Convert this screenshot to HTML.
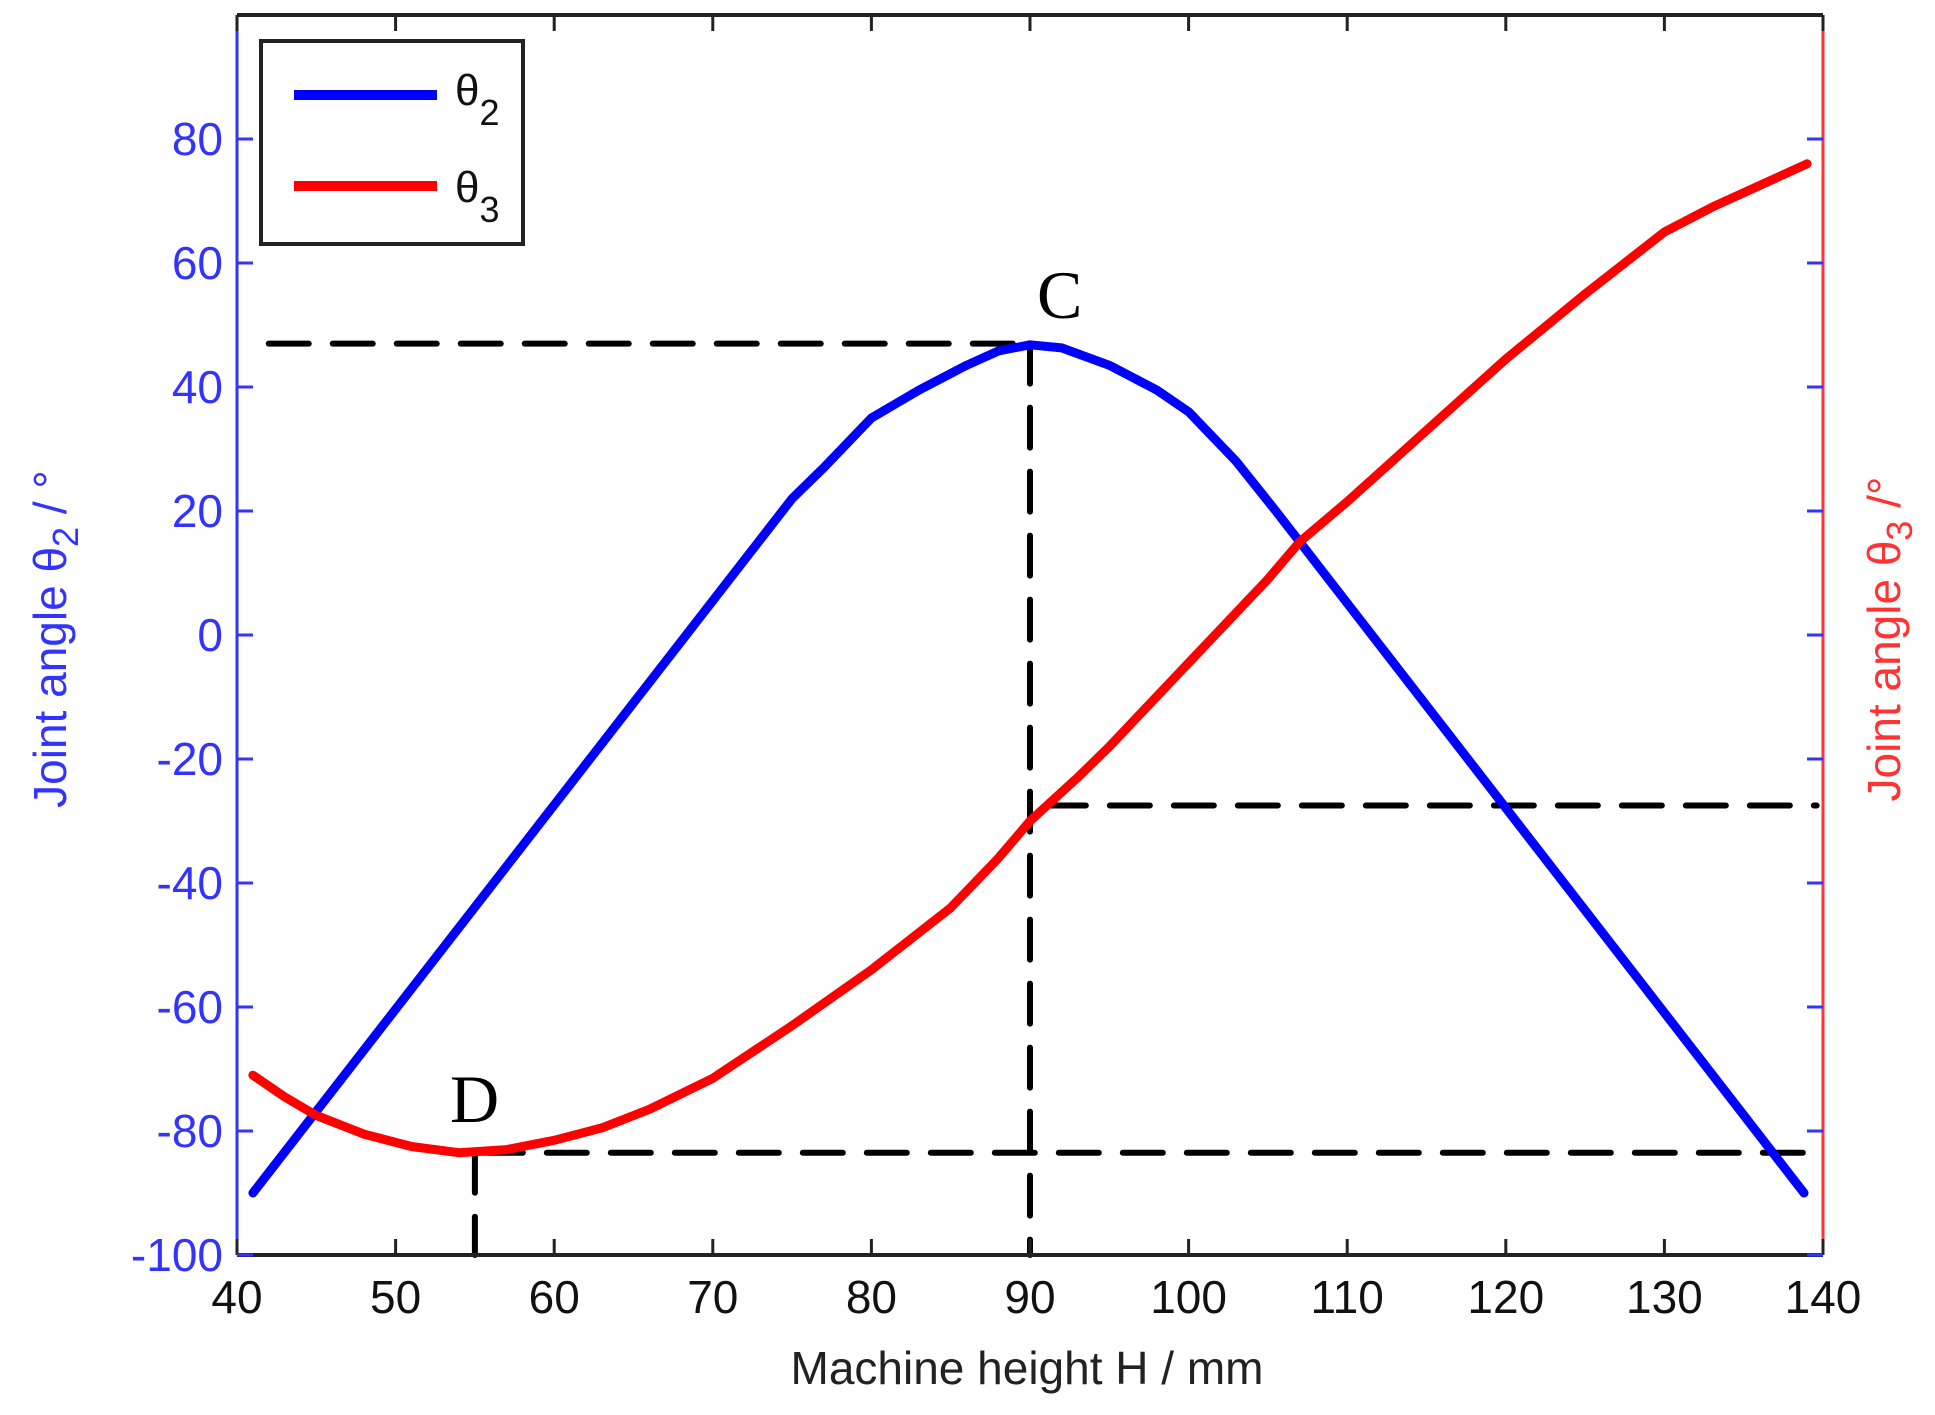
<!DOCTYPE html>
<html><head><meta charset="utf-8"><style>
html,body{margin:0;padding:0;background:#fff;}
svg{display:block;font-family:"Liberation Sans",sans-serif;}
</style></head><body>
<svg id="s" width="1935" height="1415" viewBox="0 0 1935 1415" xmlns="http://www.w3.org/2000/svg"></svg>
<script>
const L=237,R=1823,T=15,B=1255;
const X=h=>L+(h-40)*(R-L)/100;
const Y=v=>B-(v+100)*(B-T)/200;
let s='';
const dash='stroke="#000" stroke-width="6" stroke-dasharray="40 24" stroke-linecap="round" fill="none"';
s+=`<line x1="${X(42)}" y1="${Y(47)}" x2="${X(90)}" y2="${Y(47)}" ${dash}/>`;
s+=`<line x1="${X(90)}" y1="${Y(47)}" x2="${X(90)}" y2="${B}" ${dash}/>`;
s+=`<line x1="${X(91)}" y1="${Y(-27.5)}" x2="${X(139.6)}" y2="${Y(-27.5)}" ${dash}/>`;
s+=`<line x1="${X(55.5)}" y1="${Y(-83.5)}" x2="${X(139.6)}" y2="${Y(-83.5)}" ${dash}/>`;
s+=`<line x1="${X(55)}" y1="${Y(-83.5)}" x2="${X(55)}" y2="${B}" ${dash}/>`;
const blue=[[41,-90],[75,22],[77,27],[80,35],[83,39.5],[86,43.5],[88,45.8],[90,46.8],[92,46.3],[95,43.5],[98,39.5],[100,36],[103,28],[105.5,20],[138.8,-90]];
const red=[[41,-71],[43,-74.5],[45,-77.5],[48,-80.5],[51,-82.5],[54,-83.5],[57,-83],[60,-81.5],[63,-79.5],[66,-76.5],[70,-71.5],[75,-63],[80,-54],[85,-44],[88,-36],[90,-30],[93,-23],[95,-18],[100,-4.5],[105,9],[107,15],[110,21.5],[115,33],[120,44.5],[125,55],[130,65],[133,69],[136,72.5],[139,76]];
const pl=(d,c)=>`<polyline points="${d.map(p=>X(p[0]).toFixed(1)+','+Y(p[1]).toFixed(1)).join(' ')}" fill="none" stroke="${c}" stroke-width="9" stroke-linejoin="round" stroke-linecap="round"/>`;
s+=pl(blue,'#0000ff');s+=pl(red,'#ff0000');
s+=`<line x1="${L}" y1="${T}" x2="${R}" y2="${T}" stroke="#222" stroke-width="4"/>`;
s+=`<line x1="${L}" y1="${B}" x2="${R}" y2="${B}" stroke="#222" stroke-width="4"/>`;
s+=`<line x1="${L}" y1="${T}" x2="${L}" y2="${B}" stroke="#3333ff" stroke-width="3"/>`;
s+=`<line x1="${R}" y1="${T}" x2="${R}" y2="${B}" stroke="#ff3333" stroke-width="3"/>`;
for(let h=40;h<=140;h+=10){const x=X(h);
 s+=`<line x1="${x}" y1="${B}" x2="${x}" y2="${B-16}" stroke="#222" stroke-width="3"/>`;
 s+=`<line x1="${x}" y1="${T}" x2="${x}" y2="${T+16}" stroke="#222" stroke-width="3"/>`;
 s+=`<text x="${x}" y="${B+58}" font-size="46" text-anchor="middle" fill="#111">${h}</text>`;}
for(let v=-100;v<=80;v+=20){const y=Y(v);
 s+=`<line x1="${L}" y1="${y}" x2="${L+16}" y2="${y}" stroke="#3333ff" stroke-width="3"/>`;
 s+=`<line x1="${R}" y1="${y}" x2="${R-16}" y2="${y}" stroke="#3333ff" stroke-width="3"/>`;
 s+=`<text x="${L-14}" y="${y+16}" font-size="46" text-anchor="end" fill="#3333ff">${v}</text>`;}
s+=`<rect x="261" y="41" width="262" height="203" fill="#fff" stroke="#222" stroke-width="4"/>`;
s+=`<line x1="294" y1="95" x2="437" y2="95" stroke="#0000ff" stroke-width="10"/>`;
s+=`<line x1="294" y1="186" x2="437" y2="186" stroke="#ff0000" stroke-width="10"/>`;
s+=`<text x="455" y="105" font-size="44" fill="#111">θ<tspan font-size="36" dy="20">2</tspan></text>`;
s+=`<text x="455" y="202" font-size="44" fill="#111">θ<tspan font-size="36" dy="20">3</tspan></text>`;
s+=`<text x="1037" y="318" font-size="68" font-family="Liberation Serif,serif" fill="#000">C</text>`;
s+=`<text x="450" y="1122" font-size="68" font-family="Liberation Serif,serif" fill="#000">D</text>`;
s+=`<text x="1027" y="1384" font-size="46" text-anchor="middle" fill="#222">Machine height H / mm</text>`;
s+=`<text transform="translate(66,639) rotate(-90)" font-size="46" text-anchor="middle" fill="#3333ff">Joint angle θ<tspan font-size="36" dy="12">2</tspan><tspan dy="-12"> / °</tspan></text>`;
s+=`<text transform="translate(1900,639) rotate(-90)" font-size="46" text-anchor="middle" fill="#ff3333">Joint angle θ<tspan font-size="36" dy="12">3</tspan><tspan dy="-12"> /°</tspan></text>`;
document.getElementById('s').innerHTML=s;
</script>
</body></html>
